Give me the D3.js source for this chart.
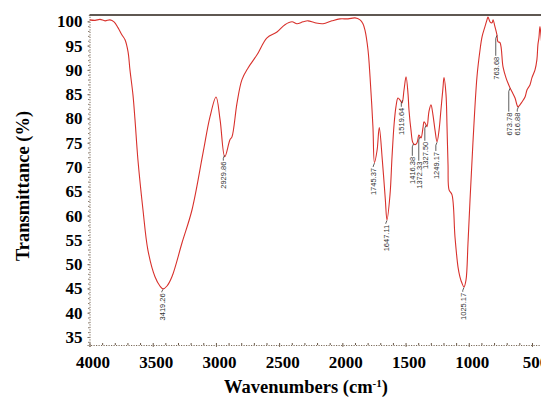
<!DOCTYPE html>
<html>
<head>
<meta charset="utf-8">
<script src="https://cdn.jsdelivr.net/npm/d3@7/dist/d3.min.js"></script>
<style>
  body { margin: 0; background: #fff; }
  svg { display: block; }
  .tick text { font-family: "Liberation Serif", "Times New Roman", serif; font-weight: bold; font-size: 17px; fill: #000; }
</style>
</head>
<body>
<div id="chart"></div>
<script>
// FTIR spectrum: wavenumber (cm-1) and transmittance (%)
const wavenumbers = [4000, 3956, 3917, 3877, 3838, 3806, 3775, 3743, 3719, 3695, 3680, 3656, 3640, 3617, 3577, 3538, 3482, 3443, 3419, 3387, 3348, 3268, 3189, 3102, 3047, 2999, 2967, 2930, 2889, 2873, 2833, 2794, 2746, 2675, 2596, 2517, 2454, 2398, 2359, 2311, 2272, 2217, 2153, 2082, 2019, 1955, 1900, 1860, 1837, 1821, 1797, 1781, 1758, 1746, 1725, 1708, 1684, 1660, 1647, 1623, 1607, 1591, 1576, 1560, 1544, 1528, 1512, 1496, 1480, 1473, 1457, 1442, 1425, 1409, 1394, 1378, 1362, 1354, 1338, 1330, 1315, 1299, 1283, 1267, 1251, 1235, 1220, 1204, 1196, 1180, 1172, 1164, 1156, 1133, 1109, 1085, 1070, 1054, 1038, 1022, 1006, 990, 967, 935, 911, 895, 872, 856, 848, 832, 816, 808, 793, 777, 769, 753, 729, 706, 690, 674, 658, 634, 619, 611, 595, 579, 555, 539, 516, 500, 476, 461, 453, 445, 437, 429, 413];
const transmittance = [100.3, 100.2, 100.4, 100.1, 100.3, 99.9, 98.7, 97.2, 96.2, 93.7, 90.0, 84.8, 79.7, 71.5, 61.2, 52.9, 47.4, 45.5, 44.9, 45.5, 47.4, 54.4, 61.2, 72.9, 80.3, 84.4, 79.7, 72.1, 75.6, 76.2, 83.2, 88.0, 90.4, 93.1, 96.6, 97.8, 99.3, 99.9, 99.5, 99.9, 100.1, 99.7, 99.5, 100.1, 100.5, 100.5, 100.7, 100.3, 99.5, 98.2, 94.1, 88.6, 78.3, 70.9, 73.5, 78.1, 71.5, 63.3, 59.1, 64.3, 72.1, 78.7, 82.4, 84.2, 83.8, 83.2, 85.9, 88.6, 84.9, 81.8, 77.6, 75.0, 74.6, 75.0, 76.6, 76.0, 78.1, 79.3, 78.7, 78.3, 81.4, 82.8, 80.7, 77.6, 75.2, 77.6, 81.8, 86.3, 88.4, 84.9, 78.3, 70.4, 65.3, 64.3, 55.6, 49.4, 47.4, 46.1, 45.3, 46.7, 54.4, 63.2, 75.0, 88.6, 94.1, 96.8, 98.9, 100.3, 100.9, 99.9, 99.7, 100.3, 98.9, 97.2, 95.8, 95.6, 90.6, 88.4, 87.3, 86.3, 85.5, 84.2, 82.8, 82.4, 82.8, 83.4, 84.4, 85.9, 86.9, 88.4, 90.0, 92.1, 95.2, 96.6, 98.9, 97.2, 92.1];

// peak annotations: printed text, where the marker sits, and where the text starts
const peakLabels = ["3419.26", "2929.86", "1745.37", "1647.11", "1519.64", "1416.38", "1372.33", "1327.50", "1249.17", "1025.17", "763.68", "673.78", "616.88"];
const peakAt = [3419, 2932, 1746, 1647, 1524, 1437, 1386, 1338, 1251, 1038, 777, 674, 607];
const peakTextT = [44.0, 71.1, 69.8, 58.1, 82.2, 72.1, 71.1, 75.2, 73.1, 44.1, 92.7, 81.2, 81.2];

const xTicks = [4000, 3500, 3000, 2500, 2000, 1500, 1000, 500];
const yTicks = [35, 40, 45, 50, 55, 60, 65, 70, 75, 80, 85, 90, 95, 100];

const width = 541, height = 405;
const plotLeft = 89.5, plotTop = 15, plotBottom = 345;

const svg = d3.select("#chart").append("svg")
  .attr("width", width)
  .attr("height", height);

const x = d3.scaleLinear().domain([4000, 400]).range([plotLeft, plotLeft + 3600 / 7.91]);
const y = d3.scaleLinear().domain([33.35, 101.3]).range([plotBottom, plotTop]);

svg.append("defs").append("clipPath").attr("id", "plot")
  .append("rect").attr("x", plotLeft).attr("y", plotTop).attr("width", width - plotLeft).attr("height", plotBottom - plotTop);

// top frame line
svg.append("line")
  .attr("x1", plotLeft).attr("x2", width)
  .attr("y1", plotTop).attr("y2", plotTop)
  .attr("stroke", "#2a2118").attr("stroke-width", 1.6);

// y axis
const yAxis = svg.append("g")
  .attr("transform", `translate(${plotLeft},0)`)
  .call(d3.axisLeft(y).tickValues(yTicks).tickSize(2).tickPadding(5).tickFormat(d3.format("d")));
yAxis.select(".domain").attr("stroke", "#7a6a5a").attr("stroke-dasharray", "1.2,1.3");
yAxis.selectAll(".tick line").attr("stroke", "#7a6a5a");

svg.append("g")
  .attr("transform", `translate(${plotLeft},0)`)
  .call(d3.axisLeft(y).tickValues(d3.range(34, 101, 1)).tickSize(1.5).tickFormat(""))
  .call(g => g.select(".domain").remove())
  .selectAll(".tick line").attr("stroke", "#8a7a6a");

// x axis
const xAxis = svg.append("g")
  .attr("transform", `translate(0,${plotBottom})`)
  .call(d3.axisBottom(x).tickValues(xTicks).tickSize(2).tickPadding(9).tickFormat(d3.format("d")));
xAxis.select(".domain").attr("stroke", "#7a6a5a").attr("stroke-dasharray", "1.2,1.3");
xAxis.selectAll(".tick line").attr("stroke", "#7a6a5a");
xAxis.selectAll(".tick text").attr("dx", 3);

svg.append("g")
  .attr("transform", `translate(0,${plotBottom})`)
  .call(d3.axisBottom(x).tickValues(d3.range(4000, 399, -100)).tickSize(-2).tickFormat(""))
  .call(g => g.select(".domain").remove())
  .selectAll(".tick line").attr("stroke", "#6a5a4a");

// spectrum
const line = d3.line()
  .x((d, i) => x(wavenumbers[i]))
  .y(d => y(d))
  .curve(d3.curveCatmullRom.alpha(0.5));

svg.append("path")
  .datum(transmittance)
  .attr("clip-path", "url(#plot)")
  .attr("fill", "none")
  .attr("stroke", "#d8312c")
  .attr("stroke-width", 1.1)
  .attr("d", line);

// peak labels
const curveAt = wn => {
  const i = wavenumbers.findIndex(w => w <= wn);
  if (i <= 0) return transmittance[Math.max(i, 0)];
  const w0 = wavenumbers[i - 1], w1 = wavenumbers[i];
  const t = (w0 - wn) / (w0 - w1);
  return transmittance[i - 1] + t * (transmittance[i] - transmittance[i - 1]);
};

const peaks = svg.append("g");
peakLabels.forEach((txt, i) => {
  const px = x(peakAt[i]), py = y(curveAt(peakAt[i]));
  const ty = y(peakTextT[i]);
  peaks.append("path")
    .attr("d", `M${px},${py + 0.5}L${px - 1.2},${Math.min(py + 3.5, ty - 1.5)}L${px - 1.2},${ty - 1}`)
    .attr("fill", "none")
    .attr("stroke", "#333")
    .attr("stroke-width", 0.8);
  peaks.append("text")
    .attr("transform", `translate(${px + 1.6},${ty}) rotate(-90)`)
    .attr("text-anchor", "end")
    .style("font-family", "'Liberation Sans', Arial, sans-serif")
    .style("font-size", "7.5px")
    .style("fill", "#333")
    .text(txt);
});

// axis titles
svg.append("text")
  .attr("transform", `translate(29,${(plotTop + plotBottom) / 2 + 6}) rotate(-90)`)
  .attr("text-anchor", "middle")
  .style("font-family", "'Liberation Serif', 'Times New Roman', serif")
  .style("font-weight", "bold")
  .style("font-size", "18.5px")
  .text("Transmittance (%)");

const xt = svg.append("text")
  .attr("x", 306)
  .attr("y", 393)
  .attr("text-anchor", "middle")
  .style("font-family", "'Liberation Serif', 'Times New Roman', serif")
  .style("font-weight", "bold")
  .style("font-size", "18.5px");
xt.append("tspan").text("Wavenumbers (cm");
xt.append("tspan").attr("dy", -6).style("font-size", "11px").text("-1");
xt.append("tspan").attr("dy", 6).text(")");
</script>
</body>
</html>
